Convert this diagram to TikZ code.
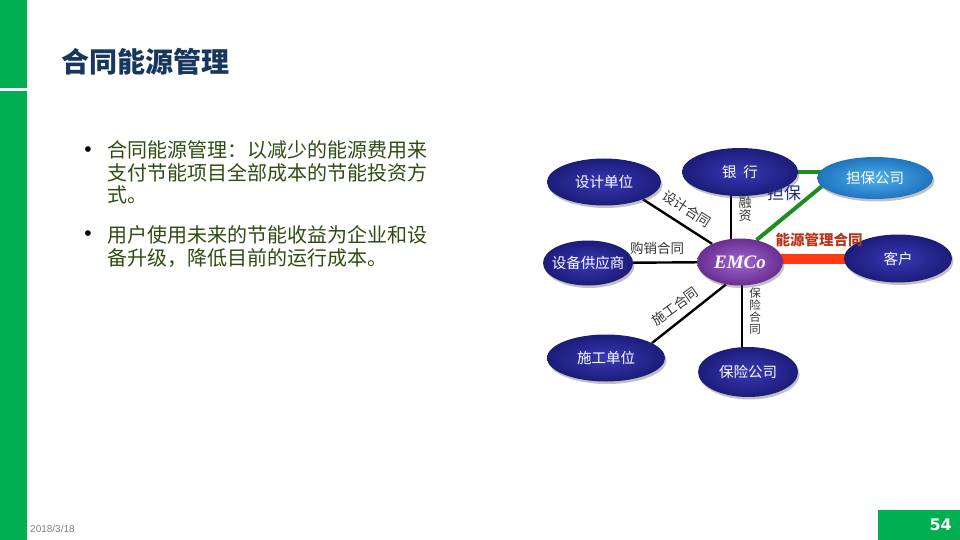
\documentclass[tikz,border=0pt]{standalone}
\usepackage{fontspec}
\setmainfont{Liberation Sans}
\newfontfamily\cjk{Noto Sans CJK SC}
\newfontfamily\emfont{Liberation Serif}
\newfontfamily\numfont{DejaVu Sans}
\usetikzlibrary{shapes.geometric,shadows,backgrounds}
\definecolor{pgreen}{HTML}{00B050}
\definecolor{titleblue}{HTML}{17375E}
\definecolor{btxt}{HTML}{2E4B12}
\definecolor{ellin}{HTML}{3838B4}
\definecolor{ellout}{HTML}{1C1C7A}
\definecolor{emin}{HTML}{A066D0}
\definecolor{emout}{HTML}{6A2E92}
\definecolor{dbin}{HTML}{4FB0EC}
\definecolor{dbout}{HTML}{1F74BE}
\definecolor{gline}{HTML}{1E8C1E}
\definecolor{rline}{HTML}{FF3A12}
\definecolor{navylbl}{HTML}{1C2A80}
\definecolor{redlbl}{HTML}{B8351C}
\newcommand{\zw}[1]{\makebox[0pt]{#1}}
\tikzset{
  ell/.style={ellipse, inner sep=0pt, text=white,
    font=\cjk\fontsize{14.5}{16}\selectfont,
    drop shadow={shadow xshift=1.5pt, shadow yshift=-2.5pt, opacity=0.35, fill=black!70},
    shade, inner color=ellin, outer color=ellout},
  conn/.style={draw=black, line width=2.4pt},
  glink/.style={draw=gline, line width=4pt},
  rlink/.style={draw=rline, line width=10pt},
  lbl/.style={inner sep=0pt, text=black!80, font=\cjk\fontsize{13.5}{15}\selectfont},
  vlbl/.style={inner sep=0pt, text=black!80, align=center, font=\cjk\fontsize{13}{13.5}\selectfont},
  btext/.style={anchor=base west, inner sep=0pt, text=btxt, font=\cjk\fontsize{20}{22}\selectfont},
  bdot/.style={inner sep=0pt, text=black, font=\fontsize{21}{21}\selectfont},
}
\begin{document}
\begin{tikzpicture}[x=1pt,y=-1pt]
\useasboundingbox (0,0) rectangle (960,540);
% left bar
\fill[pgreen] (0,0) rectangle (27,540);
\fill[white] (0,88) rectangle (27,91);
% page number box
\fill[pgreen] (878,510) rectangle (960,540);
\node[anchor=east, inner sep=0pt, text=white, font=\numfont\bfseries\fontsize{16}{16}\selectfont] (pn) at (952,525) {54};
\node[anchor=west, inner sep=0pt, text=black!50, font=\fontsize{10}{10}\selectfont] (date) at (30,529) {2018/3/18};
% title
\node[anchor=west, inner sep=0pt, text=titleblue, font=\cjk\bfseries\fontsize{28}{28}\selectfont] (title) at (61,62) {合同能源管理};
% bullets
\node[bdot] (d1) at (88,152) {•};
\node[btext] (b1) at (107,158) {合同能源管理：以减少的能源费用来};
\node[btext] (b2) at (107,180) {支付节能项目全部成本的节能投资方};
\node[btext] (b3) at (107,202) {式。};
\node[bdot] (d2) at (88,236) {•};
\node[btext] (b4) at (107,242) {用户使用未来的节能收益为企业和设};
\node[btext] (b5) at (107,265) {备升级，降低目前的运行成本。};
% ellipses
\node[ell, minimum width=114pt, minimum height=47pt] (sj) at (604,182) {\zw{设计单位}};
\node[ell, minimum width=116pt, minimum height=48pt] (yh) at (740,172) {\zw{银\hspace{0.45em}行}};
\node[ell, minimum width=116pt, minimum height=42pt, inner color=dbin, outer color=dbout] (db) at (875,178) {\zw{担保公司}};
\node[ell, minimum width=90pt, minimum height=45pt] (sb) at (588,263) {\zw{设备供应商}};
\node[ell, minimum width=86pt, minimum height=47pt, inner color=emin, outer color=emout, font=\emfont\bfseries\itshape\fontsize{19}{20}\selectfont] (emco) at (740,262) {\zw{EMCo}};
\node[ell, minimum width=108pt, minimum height=48pt] (kh) at (898,258.5) {\zw{客户}};
\node[ell, minimum width=118pt, minimum height=47pt] (sg) at (606,358) {\zw{施工单位}};
\node[ell, minimum width=100pt, minimum height=50pt] (bx) at (748,372) {\zw{保险公司}};
% connectors
\begin{scope}[on background layer]
\draw[conn] (sj.-24) -- (emco.147);
\draw[conn] ([xshift=-9pt]yh.center) -- ([xshift=-9pt]emco.center);
\draw[conn] (sb.center) -- (emco.center);
\draw[conn] (emco.238) -- (sg.18);
\draw[conn] ([xshift=2pt]emco.center) -- ([xshift=-6pt]bx.center);
\draw[glink] (yh.center) -- (yh.center -| db.center);
\draw[glink] (db.189) -- (emco.53);
\draw[rlink] (emco.center |- kh.center) -- (kh.center);
\end{scope}
% labels
\node[lbl, rotate=-33] (t1) at (687,209) {设计合同};
\node[vlbl] (t2) at (745,209) {融\\资};
\node[inner sep=0pt, text=navylbl, font=\cjk\fontsize{17}{17}\selectfont] (t3) at (784,193) {担保};
\node[lbl] (t4) at (657,248) {购销合同};
\node[inner sep=0pt, text=redlbl, font=\cjk\bfseries\fontsize{14.5}{15}\selectfont] (t5) at (819,240) {能源管理合同};
\node[lbl, rotate=36] (t6) at (675,306) {施工合同};
\node[vlbl, font=\cjk\fontsize{11.5}{12}\selectfont] (t7) at (755,311) {保\\险\\合\\同};
\end{tikzpicture}
\end{document}
